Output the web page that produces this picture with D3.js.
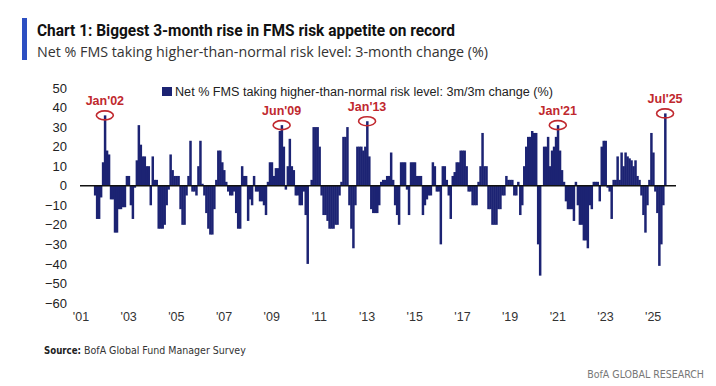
<!DOCTYPE html>
<html>
<head>
<meta charset="utf-8">
<script src="https://cdn.jsdelivr.net/npm/d3@7/dist/d3.min.js"></script>
<style>
  body { margin: 0; background: #fff; }
  svg { display: block; font-family: "Liberation Sans", Arial, sans-serif; }
</style>
</head>
<body>
<svg id="chart" width="716" height="386"></svg>
<script>
// first bar is Aug 2001; month index counts from Jan 2001
var firstMonth = 7;
var totalMonths = 300; // Jan 2001 .. Dec 2025 on the axis

// Net % FMS taking higher-than-normal risk: 3m/3m change, one value a month
var riskChange = [
  -5, -17, -17, -6, 12,                               // 2001 Aug-Dec
  36, 18, 16, -7, -7, -24, -24, -12, -12, -11, -11, 5,  // 2002
  5, -10, -17, -1, 13, 31, 21, 15, 15, 10, 10, -10,     // 2003
  15, 3, 3, -22, -22, -22, -20, -10, -2, 16, 8, 5,      // 2004
  5, 5, -12, -20, -20, -5, 5, 23, -3, -3, -5, 10,       // 2005
  23, 1, -5, -14, -22, -25, -25, -12, 3, 18, 18, 12,    // 2006
  8, 2, -3, -5, -5, -3, -14, -22, -22, 10, 5, 5,        // 2007
  -18, -7, -10, 5, -3, -3, -8, -8, -10, -15, 2, 12,     // 2008
  12, 5, 9, 9, 28, 31, 20, -2, 10, 24, 10, 8,           // 2009
  -5, -5, -10, -10, -3, -15, -40, 0, 3, 30, 30, 30,     // 2010
  20, -5, -15, -15, -18, -22, -22, -22, -20, -20, -5, 2,// 2011
  25, 25, 30, -10, -22, -32, -10, 20, 20, 20, 18, 20,   // 2012
  33, 15, -12, -14, -14, -14, -10, 2, 3, 3, 5, 5,       // 2013
  17, 3, -10, -15, -20, 12, 12, 12, -2, -15, 12, 12,    // 2014
  12, 5, 5, 5, -15, -10, -7, -5, -5, 12, 10, -3,        // 2015
  -3, -30, 10, 10, 3, -5, -17, 5, 7, 12, 12, 18,        // 2016
  18, 18, 10, -3, -3, -10, -10, -10, 2, 10, 27, 10,     // 2017
  10, -12, -12, -20, -20, -20, -12, -12, -5, -5, 5, 3,  // 2018
  3, 3, -5, -5, 2, -15, -10, 10, 20, 25, 25, 28,        // 2019
  27, 27, -30, -46, 0, 20, 20, 25, 10, 18, 20, 25,      // 2020
  31, 18, 8, 2, -8, -12, -12, -12, -18, 2, -10, -20,    // 2021
  -20, -28, -28, -32, -10, -12, 2, 2, 2, -8, 20, 23,    // 2022
  23, -1, -3, -17, 3, 3, 15, 3, 17, 10, 17, 15,         // 2023
  14, 13, 10, 13, 5, 3, -5, -15, -24, -10, 3, 27,       // 2024
  17, -3, -14, -41, -30, -10, 37                        // 2025 Jan-Jul
];

var yTicks = [50, 40, 30, 20, 10, 0, -10, -20, -30, -40, -50, -60];
var xTickYears = [2001, 2003, 2005, 2007, 2009, 2011, 2013, 2015, 2017, 2019, 2021, 2023, 2025];
var calloutLabels = ["Jan'02", "Jun'09", "Jan'13", "Jan'21", "Jul'25"];
var calloutMonths = [12, 101, 144, 240, 294];

var legendText = "Net % FMS taking higher-than-normal risk level: 3m/3m change (%)";
var titleText = "Chart 1: Biggest 3-month rise in FMS risk appetite on record";
var subtitleText = "Net % FMS taking higher-than-normal risk level: 3-month change (%)";

var navy = "#1c2373", red = "#c0282e";
var narrow = "'Liberation Sans Narrow', 'DejaVu Sans Condensed', sans-serif";

var bars = riskChange.map(function(v, i){ return {m: i + firstMonth, v: v}; });

var svg = d3.select("#chart");

var x = d3.scaleBand().domain(d3.range(totalMonths)).range([80, 676]).padding(0);
var y = d3.scaleLinear().domain([-60, 50]).range([303, 88]);

// fit a text to a width by its font size
function fitWidth(sel, w){
  var fs = +sel.attr("font-size");
  var cur = sel.node().getComputedTextLength();
  if (cur > 0) sel.attr("font-size", fs * w / cur);
  return sel;
}

// header
svg.append("rect").attr("x", 22).attr("y", 18).attr("width", 5).attr("height", 42).attr("fill", "#2d4fc2");
svg.append("text").attr("x", 37).attr("y", 36)
  .attr("font-family", "Roboto, 'Open Sans', sans-serif").attr("font-weight", "bold")
  .attr("font-size", 17).attr("fill", "#111")
  .attr("textLength", 418).attr("lengthAdjust", "spacingAndGlyphs")
  .text(titleText);
svg.append("text").attr("x", 37).attr("y", 57)
  .attr("font-family", "'Open Sans', Roboto, sans-serif")
  .attr("font-size", 15).attr("fill", "#333")
  .attr("textLength", 451).attr("lengthAdjust", "spacingAndGlyphs")
  .text(subtitleText);

// y axis labels
var yAxis = svg.append("g").attr("transform", "translate(67,0)")
  .call(d3.axisLeft(y).tickValues(yTicks).tickSize(0).tickPadding(0));
yAxis.select(".domain").remove();
yAxis.selectAll("text").attr("font-size", 13).attr("fill", "#222")
  .attr("font-family", "'Liberation Sans', Arial, sans-serif");

// x axis labels
var xAxis = svg.append("g").attr("transform", "translate(0,312)")
  .call(d3.axisBottom(x)
    .tickValues(xTickYears.map(function(yr){ return (yr - 2001) * 12; }))
    .tickFormat(function(m){ return "'" + String(2001 + m / 12).slice(2); })
    .tickSize(0).tickPadding(0));
xAxis.select(".domain").remove();
xAxis.selectAll("text").attr("font-size", 12.5).attr("fill", "#333")
  .attr("font-family", "'Liberation Sans', Arial, sans-serif");

// bars
svg.append("g").selectAll("rect").data(bars).enter().append("rect")
  .attr("x", function(d){ return x(d.m); })
  .attr("width", x.bandwidth() + 0.5)
  .attr("y", function(d){ return y(Math.max(0, d.v)); })
  .attr("height", function(d){ return Math.abs(y(d.v) - y(0)); })
  .attr("fill", navy);

// zero line
svg.append("line").attr("x1", 80).attr("x2", 676)
  .attr("y1", y(0)).attr("y2", y(0))
  .attr("stroke", "#111").attr("stroke-width", 1.3);

// legend
svg.append("rect").attr("x", 162).attr("y", 87).attr("width", 10).attr("height", 9).attr("fill", navy);
svg.append("text").attr("x", 175).attr("y", 96)
  .attr("font-size", 12.5).attr("fill", "#222")
  .attr("textLength", 378).attr("lengthAdjust", "spacingAndGlyphs")
  .text(legendText);

// callouts
var byMonth = {};
bars.forEach(function(d){ byMonth[d.m] = d.v; });
var callouts = svg.append("g").selectAll("g").data(calloutMonths).enter().append("g")
  .attr("transform", function(m){
    return "translate(" + (x(m) + x.bandwidth() / 2) + "," + y(byMonth[m]) + ")";
  });
callouts.append("ellipse").attr("rx", 8.5).attr("ry", 4.5)
  .attr("fill", "none").attr("stroke", red).attr("stroke-width", 1.6);
callouts.append("text").attr("y", -10).attr("text-anchor", "middle")
  .attr("font-size", 12.5).attr("font-weight", "bold").attr("fill", red)
  .text(function(m, i){ return calloutLabels[i]; });

// footer
var srcLabel = svg.append("text").attr("x", 44).attr("y", 354)
  .attr("font-family", narrow).attr("font-weight", "bold")
  .attr("font-size", 12).attr("fill", "#222").text("Source:");
fitWidth(srcLabel, 37);
svg.append("text").attr("x", 44 + 37 + 3).attr("y", 354)
  .attr("font-family", narrow).attr("font-size", 12).attr("fill", "#333")
  .text("BofA Global Fund Manager Survey")
  .call(fitWidth, 162);

svg.append("text").attr("x", 704).attr("y", 378).attr("text-anchor", "end")
  .attr("font-family", narrow).attr("font-size", 12.5).attr("fill", "#777")
  .text("BofA GLOBAL RESEARCH")
  .call(fitWidth, 117);
</script>
</body>
</html>
